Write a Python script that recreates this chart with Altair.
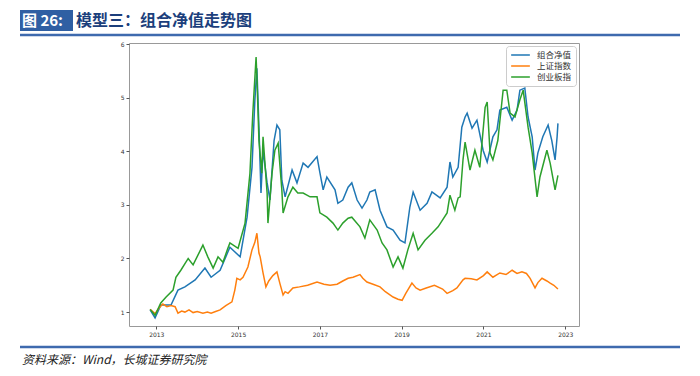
import altair as alt
import pandas as pd

# ---- data ----
sh_year = [2012.85, 2012.97, 2013.05, 2013.16, 2013.26, 2013.36, 2013.46, 2013.53, 2013.62, 2013.70,
           2013.80, 2013.90, 2014.00, 2014.14, 2014.25, 2014.34, 2014.45, 2014.56, 2014.70, 2014.85,
           2014.92, 2014.97, 2015.05, 2015.12, 2015.24, 2015.34, 2015.41, 2015.46, 2015.51, 2015.54,
           2015.61, 2015.68, 2015.75, 2015.85, 2015.95, 2016.02, 2016.10, 2016.15, 2016.22, 2016.34,
           2016.50, 2016.70, 2016.93, 2017.10, 2017.25, 2017.42, 2017.56, 2017.69, 2017.81, 2017.98,
           2018.05, 2018.15, 2018.30, 2018.47, 2018.60, 2018.79, 2018.91, 2019.01, 2019.10, 2019.25,
           2019.35, 2019.45, 2019.60, 2019.80, 2020.00, 2020.11, 2020.25, 2020.35, 2020.50, 2020.55,
           2020.70, 2020.84, 2021.00, 2021.09, 2021.23, 2021.40, 2021.55, 2021.70, 2021.82, 2021.94,
           2022.05, 2022.14, 2022.26, 2022.33, 2022.43, 2022.55, 2022.63, 2022.72, 2022.82]
sh_val = [1.05, 0.97, 1.06, 1.15, 1.10, 1.12, 1.10, 0.98, 1.02, 1.00,
          1.04, 0.99, 1.01, 0.98, 1.00, 0.98, 1.01, 1.04, 1.12, 1.19,
          1.41, 1.63, 1.60, 1.65, 1.84, 2.16, 2.30, 2.47, 2.10, 2.03,
          1.73, 1.47, 1.58, 1.68, 1.75, 1.54, 1.32, 1.38, 1.35, 1.45,
          1.47, 1.50, 1.56, 1.52, 1.50, 1.52, 1.58, 1.63, 1.65, 1.70,
          1.63, 1.56, 1.52, 1.47, 1.38, 1.28, 1.24, 1.22, 1.35, 1.54,
          1.45, 1.41, 1.45, 1.50, 1.43, 1.35, 1.40, 1.45, 1.60, 1.63,
          1.62, 1.60, 1.68, 1.75, 1.65, 1.73, 1.70, 1.78, 1.72, 1.75,
          1.72, 1.63, 1.45, 1.55, 1.63, 1.58, 1.54, 1.50, 1.43]

pf_year = [2012.85, 2012.97, 2013.11, 2013.36, 2013.53, 2013.70, 2013.95, 2014.19, 2014.34, 2014.56,
           2014.75, 2014.80, 2015.05, 2015.22, 2015.34, 2015.41, 2015.46, 2015.51, 2015.56, 2015.61,
           2015.71, 2015.78, 2015.88, 2015.95, 2016.02, 2016.07, 2016.15, 2016.32, 2016.44, 2016.59,
           2016.71, 2016.93, 2017.00, 2017.08, 2017.17, 2017.37, 2017.44, 2017.56, 2017.69, 2017.78,
           2017.91, 2018.03, 2018.15, 2018.22, 2018.35, 2018.47, 2018.64, 2018.79, 2018.96, 2019.08,
           2019.20, 2019.28, 2019.45, 2019.62, 2019.74, 2019.94, 2020.11, 2020.18, 2020.25, 2020.38,
           2020.47, 2020.55, 2020.60, 2020.72, 2020.84, 2020.99, 2021.09, 2021.23, 2021.33, 2021.40,
           2021.57, 2021.70, 2021.82, 2021.89, 2022.01, 2022.09, 2022.19, 2022.26, 2022.33, 2022.45,
           2022.58, 2022.67, 2022.75, 2022.80, 2022.82]
pf_val = [1.04, 0.89, 1.13, 1.13, 1.41, 1.47, 1.60, 1.82, 1.65, 1.78,
          2.12, 2.21, 2.03, 2.77, 3.70, 4.95, 5.55, 4.45, 3.22, 4.02,
          3.41, 3.09, 4.20, 4.49, 4.40, 3.46, 3.15, 3.65, 3.41, 3.78,
          3.70, 3.90, 3.60, 3.28, 3.52, 3.28, 3.03, 3.09, 3.33, 3.41,
          3.09, 2.94, 3.09, 3.24, 3.28, 2.90, 2.59, 2.53, 2.34, 2.29,
          2.96, 3.24, 2.90, 3.03, 3.24, 3.13, 3.33, 3.80, 3.52, 3.70,
          4.45, 4.64, 4.71, 4.43, 4.58, 4.02, 3.80, 4.27, 4.40, 4.77,
          4.82, 4.58, 4.77, 5.14, 5.18, 4.64, 4.27, 3.65, 3.97, 4.27,
          4.49, 4.20, 3.84, 4.27, 4.52]

cy_year = [2012.85, 2012.97, 2013.11, 2013.24, 2013.41, 2013.48, 2013.60, 2013.78, 2013.90, 2014.14,
           2014.26, 2014.39, 2014.51, 2014.63, 2014.75, 2014.80, 2015.00, 2015.17, 2015.29, 2015.36,
           2015.44, 2015.46, 2015.51, 2015.58, 2015.61, 2015.71, 2015.73, 2015.83, 2015.90, 2015.98,
           2016.07, 2016.10, 2016.22, 2016.34, 2016.46, 2016.59, 2016.76, 2016.93, 2017.00, 2017.17,
           2017.32, 2017.44, 2017.56, 2017.69, 2017.78, 2017.98, 2018.10, 2018.22, 2018.40, 2018.52,
           2018.64, 2018.79, 2018.91, 2019.03, 2019.15, 2019.28, 2019.40, 2019.57, 2019.74, 2019.89,
           2020.11, 2020.18, 2020.30, 2020.38, 2020.43, 2020.50, 2020.55, 2020.67, 2020.79, 2020.91,
           2021.04, 2021.09, 2021.16, 2021.23, 2021.35, 2021.48, 2021.57, 2021.65, 2021.77, 2021.89,
           2021.97, 2022.09, 2022.19, 2022.31, 2022.38, 2022.55, 2022.63, 2022.75, 2022.82]
cy_val = [1.05, 0.94, 1.17, 1.28, 1.41, 1.65, 1.78, 2.00, 1.88, 2.25,
          2.03, 1.82, 2.03, 1.93, 2.19, 2.29, 2.19, 2.66, 3.59, 4.71,
          5.76, 5.38, 4.20, 3.59, 4.27, 3.22, 2.66, 3.59, 4.02, 4.15,
          3.28, 2.85, 3.15, 3.33, 3.22, 3.22, 3.15, 3.15, 2.85, 2.77,
          2.66, 2.53, 2.66, 2.75, 2.77, 2.59, 2.38, 2.72, 2.53, 2.29,
          2.16, 1.84, 2.03, 1.82, 2.16, 2.47, 2.16, 2.34, 2.47, 2.59,
          2.85, 3.18, 2.90, 3.13, 3.15, 3.85, 4.17, 3.65, 4.02, 3.70,
          4.82, 4.92, 3.97, 3.84, 4.20, 5.14, 5.14, 4.71, 4.64, 4.96,
          5.14, 4.45, 3.97, 3.15, 3.52, 4.02, 3.78, 3.28, 3.55]

series_names = ["组合净值", "上证指数", "创业板指"]
series_colors = ["#1f77b4", "#ff7f0e", "#2ca02c"]
x_ticks = [2013, 2015, 2017, 2019, 2021, 2023]
y_ticks = [1, 2, 3, 4, 5, 6]

header_tag = "图 26:"
header_title = "模型三：组合净值走势图"
footer_text = "资料来源：Wind，长城证券研究院"

rows = []
for name, ys, vs in [(series_names[0], pf_year, pf_val),
                     (series_names[1], sh_year, sh_val),
                     (series_names[2], cy_year, cy_val)]:
    for i, (t, v) in enumerate(zip(ys, vs)):
        rows.append({"year": t, "value": v, "series": name, "order": i})
df = pd.DataFrame(rows)

CJK = "Noto Sans CJK SC"

lines = alt.Chart(df).mark_line(strokeWidth=1.5).encode(
    x=alt.X("year:Q",
            scale=alt.Scale(domain=[2012.333, 2023.335], nice=False, zero=False),
            axis=alt.Axis(values=x_ticks, format="d", title=None, grid=False,
                          labelFontSize=6, labelColor="#333", tickColor="#555",
                          tickSize=3, domain=False, labelFont="DejaVu Sans")),
    y=alt.Y("value:Q",
            scale=alt.Scale(domain=[0.74, 6.02], nice=False, zero=False),
            axis=alt.Axis(values=y_ticks, format="d", title=None, grid=False,
                          labelFontSize=6, labelColor="#333", tickColor="#555",
                          tickSize=3, domain=False, labelFont="DejaVu Sans")),
    color=alt.Color("series:N",
                    scale=alt.Scale(domain=series_names, range=series_colors),
                    sort=series_names,
                    legend=alt.Legend(title=None, orient="top-right", offset=3,
                                      symbolType="stroke", symbolSize=350,
                                      symbolStrokeWidth=1.5, labelFont=CJK,
                                      labelFontSize=8.5, labelColor="#333",
                                      strokeColor="#ccc", fillColor="white",
                                      padding=4, cornerRadius=3, rowPadding=1,
                                      clipHeight=10, labelOffset=6)),
    order="order:Q",
)

one = pd.DataFrame({"k": [0]})

box = alt.Chart(one).mark_rect(color="#2f5fa3").encode(
    x=alt.value(-109), x2=alt.value(-56), y=alt.value(-33), y2=alt.value(-12))
tag = alt.Chart(one).mark_text(align="left", baseline="middle", font=CJK,
                               fontSize=15, fontWeight="bold", color="white").encode(
    x=alt.value(-107), y=alt.value(-22), text=alt.value(header_tag))
title = alt.Chart(one).mark_text(align="left", baseline="middle", font=CJK,
                                 fontSize=16, fontWeight="bold", color="#1c3f7c").encode(
    x=alt.value(-53), y=alt.value(-22), text=alt.value(header_title))
top_rule = alt.Chart(one).mark_rule(color="#3e6aae", strokeWidth=2.5).encode(
    x=alt.value(-109), x2=alt.value(551), y=alt.value(-8))
bottom_rule = alt.Chart(one).mark_rule(color="#3e6aae", strokeWidth=2.5).encode(
    x=alt.value(-109), x2=alt.value(551), y=alt.value(304))
footer = alt.Chart(one).mark_text(align="left", baseline="middle", font=CJK,
                                  fontSize=12, fontStyle="italic", color="#222").encode(
    x=alt.value(-107), y=alt.value(317), text=alt.value(footer_text))

chart = alt.layer(lines, box, tag, title, top_rule, bottom_rule, footer).properties(
    width=450, height=283,
    autosize=alt.AutoSizeParams(type="none"),
    padding={"left": 121, "top": 35, "right": 113, "bottom": 42},
    background="white",
).configure_view(stroke="#999", strokeWidth=1)

chart.save("out.html", embed_options={"renderer": "svg", "actions": False})
